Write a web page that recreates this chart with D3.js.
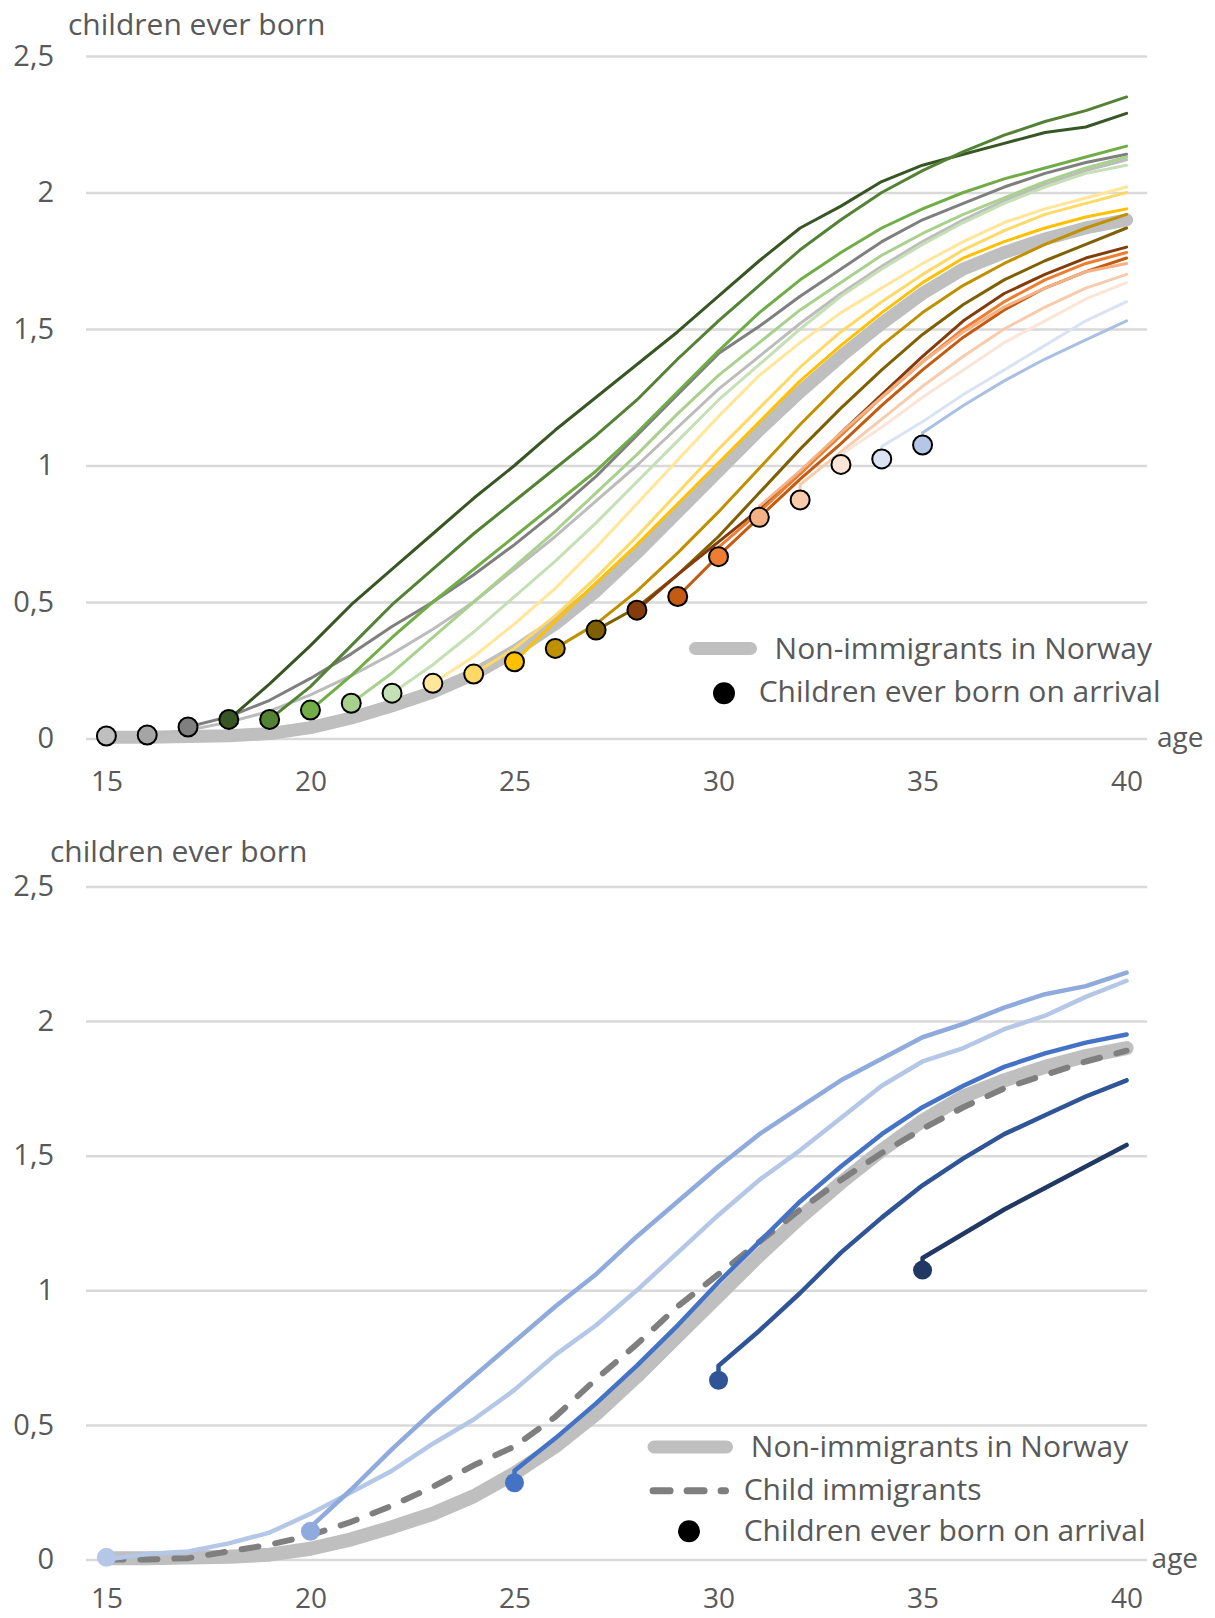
<!DOCTYPE html>
<html>
<head>
<meta charset="utf-8">
<script src="https://cdn.jsdelivr.net/npm/d3@7"></script>
<style>
  body { margin: 0; background: #fff; }
  text { font-family: 'Open Sans', sans-serif; fill: #595959; }
</style>
</head>
<body>
<div class="chart"></div>
<script>
// ---- data ----
var xTicks = [15, 20, 25, 30, 35, 40];
var yTicks = [0, 0.5, 1, 1.5, 2, 2.5];
var yTickLabels = ['0', '0,5', '1', '1,5', '2', '2,5'];

// ages 15..40
var nonImmigrants = [0.005, 0.005, 0.007, 0.01, 0.018, 0.04, 0.075, 0.12, 0.17, 0.235, 0.32, 0.42, 0.54, 0.68, 0.83, 0.98, 1.13, 1.27, 1.40, 1.52, 1.63, 1.72, 1.78, 1.83, 1.87, 1.90];
var childImmigrants = [0.0, 0.0, 0.005, 0.03, 0.055, 0.09, 0.14, 0.2, 0.27, 0.35, 0.42, 0.53, 0.67, 0.8, 0.94, 1.06, 1.18, 1.3, 1.41, 1.51, 1.6, 1.68, 1.75, 1.8, 1.85, 1.89];

// top panel: children ever born on arrival, arrival ages 15..35
var arrivalAgesTop = [15, 16, 17, 18, 19, 20, 21, 22, 23, 24, 25, 26, 27, 28, 29, 30, 31, 32, 33, 34, 35];
var arrivalCebTop = [0.009, 0.013, 0.042, 0.07, 0.07, 0.104, 0.129, 0.166, 0.202, 0.236, 0.281, 0.33, 0.397, 0.47, 0.52, 0.666, 0.81, 0.874, 1.004, 1.024, 1.075];

// top panel: one line per arrival age, values from arrival age up to 40
var cohort16 = [0.013, 0.03, 0.06, 0.1, 0.16, 0.23, 0.31, 0.4, 0.5, 0.62, 0.74, 0.87, 1.0, 1.14, 1.28, 1.4, 1.52, 1.63, 1.73, 1.82, 1.9, 1.97, 2.03, 2.08, 2.12];
var cohort17 = [0.042, 0.08, 0.14, 0.22, 0.31, 0.41, 0.5, 0.6, 0.71, 0.83, 0.96, 1.11, 1.26, 1.41, 1.51, 1.62, 1.72, 1.82, 1.9, 1.96, 2.02, 2.07, 2.11, 2.14];
var cohort18 = [0.07, 0.2, 0.34, 0.49, 0.62, 0.75, 0.88, 1.0, 1.13, 1.25, 1.37, 1.49, 1.62, 1.75, 1.87, 1.95, 2.04, 2.1, 2.14, 2.18, 2.22, 2.24, 2.29];
var cohort19 = [0.07, 0.19, 0.34, 0.49, 0.62, 0.75, 0.87, 0.99, 1.11, 1.24, 1.39, 1.53, 1.66, 1.79, 1.9, 2.0, 2.08, 2.15, 2.21, 2.26, 2.3, 2.35];
var cohort20 = [0.104, 0.23, 0.37, 0.5, 0.62, 0.74, 0.86, 0.98, 1.12, 1.27, 1.42, 1.56, 1.68, 1.78, 1.87, 1.94, 2.0, 2.05, 2.09, 2.13, 2.17];
var cohort21 = [0.129, 0.24, 0.37, 0.5, 0.63, 0.76, 0.9, 1.04, 1.19, 1.33, 1.45, 1.57, 1.67, 1.77, 1.85, 1.92, 1.98, 2.04, 2.09, 2.13];
var cohort22 = [0.166, 0.27, 0.39, 0.52, 0.65, 0.79, 0.94, 1.09, 1.24, 1.37, 1.5, 1.62, 1.72, 1.81, 1.89, 1.96, 2.02, 2.07, 2.1];
var cohort23 = [0.202, 0.3, 0.42, 0.55, 0.7, 0.86, 1.02, 1.18, 1.33, 1.45, 1.56, 1.65, 1.74, 1.82, 1.89, 1.94, 1.98, 2.02];
var cohort24 = [0.236, 0.33, 0.45, 0.59, 0.74, 0.9, 1.06, 1.21, 1.36, 1.49, 1.6, 1.7, 1.79, 1.86, 1.92, 1.96, 2.0];
var cohort25 = [0.281, 0.43, 0.57, 0.71, 0.86, 1.01, 1.16, 1.31, 1.44, 1.56, 1.67, 1.76, 1.82, 1.87, 1.91, 1.94];
var cohort26 = [0.33, 0.42, 0.54, 0.68, 0.83, 0.99, 1.15, 1.3, 1.44, 1.56, 1.66, 1.74, 1.81, 1.87, 1.92];
var cohort27 = [0.397, 0.48, 0.6, 0.74, 0.9, 1.06, 1.21, 1.35, 1.48, 1.59, 1.68, 1.75, 1.81, 1.87];
var cohort28 = [0.47, 0.6, 0.72, 0.84, 0.97, 1.12, 1.26, 1.4, 1.53, 1.63, 1.7, 1.76, 1.8];
var cohort29 = [0.52, 0.67, 0.81, 0.95, 1.08, 1.22, 1.35, 1.47, 1.57, 1.65, 1.71, 1.76];
var cohort30 = [0.7, 0.83, 0.97, 1.11, 1.25, 1.38, 1.5, 1.6, 1.68, 1.74, 1.78];
var cohort31 = [0.85, 0.98, 1.12, 1.25, 1.38, 1.49, 1.58, 1.65, 1.71, 1.74];
var cohort32 = [0.93, 1.05, 1.17, 1.29, 1.4, 1.5, 1.58, 1.65, 1.7];
var cohort33 = [1.04, 1.14, 1.25, 1.35, 1.45, 1.53, 1.61, 1.67];
var cohort34 = [1.07, 1.16, 1.26, 1.35, 1.44, 1.53, 1.6];
var cohort35 = [1.12, 1.22, 1.31, 1.39, 1.46, 1.53];
var linesTop = [null, cohort16, cohort17, cohort18, cohort19, cohort20, cohort21, cohort22, cohort23, cohort24,
  cohort25, cohort26, cohort27, cohort28, cohort29, cohort30, cohort31, cohort32, cohort33, cohort34, cohort35];

// bottom panel: arrival ages 15, 20, 25, 30, 35
var arrivalAgesBottom = [15, 20, 25, 30, 35];
var arrivalCebBottom = [0.008, 0.105, 0.285, 0.666, 1.075];
var arrived15 = [0.0, 0.02, 0.03, 0.06, 0.1, 0.17, 0.25, 0.33, 0.43, 0.52, 0.63, 0.76, 0.87, 1.0, 1.14, 1.28, 1.41, 1.52, 1.64, 1.76, 1.85, 1.9, 1.97, 2.02, 2.09, 2.15];
var arrived20 = [0.12, 0.26, 0.41, 0.55, 0.68, 0.81, 0.94, 1.06, 1.2, 1.33, 1.46, 1.58, 1.68, 1.78, 1.86, 1.94, 1.99, 2.05, 2.1, 2.13, 2.18];
var arrived25 = [0.33, 0.45, 0.58, 0.72, 0.87, 1.03, 1.18, 1.33, 1.46, 1.58, 1.68, 1.76, 1.83, 1.88, 1.92, 1.95];
var arrived30 = [0.72, 0.85, 0.99, 1.14, 1.27, 1.39, 1.49, 1.58, 1.65, 1.72, 1.78];
var arrived35 = [1.12, 1.21, 1.3, 1.38, 1.46, 1.54];
var linesBottom = [arrived15, arrived20, arrived25, arrived30, arrived35];

// colours
var topColors = ['#bfbfbf', '#bcbcbc', '#7f7f7f', '#375623', '#548235', '#70ad47', '#a9d18e', '#c5e0b4',
  '#ffe699', '#ffd966', '#ffc000', '#bf9000', '#7f6000', '#843c0c', '#c55a11', '#ed7d31',
  '#f4b183', '#f8cbad', '#fbe5d6', '#dae3f3', '#a9c0e4'];
var topMarkerColors = ['#bfbfbf', '#a5a5a5', '#7f7f7f', '#375623', '#548235', '#70ad47', '#a9d18e', '#c5e0b4',
  '#ffe699', '#ffd966', '#ffc000', '#bf9000', '#7f6000', '#843c0c', '#c55a11', '#ed7d31',
  '#f4b183', '#f8cbad', '#fbe5d6', '#dae3f3', '#b4c7e7'];
var bottomColors = ['#b4c7e7', '#8faadc', '#4472c4', '#2f5597', '#203864'];

// ---- layout ----
var width = 1215, height = 1618;
var plotLeft = 86, plotRight = 1147;

var svg = d3.select('.chart')
  .append('svg')
    .attr('width', width)
    .attr('height', height);

var x = d3.scaleLinear().domain([14.5, 40.5]).range([plotLeft, plotRight]);
var yTop = d3.scaleLinear().domain([0, 2.5]).range([738.5, 56]);
var yBottom = d3.scaleLinear().domain([0, 2.5]).range([1559.5, 886.5]);

function series(startAge, values, firstValue) {
  var pts = values.map(function(v, i) { return { age: startAge + i, value: v }; });
  if (firstValue != null) pts.unshift({ age: startAge, value: firstValue });
  return pts;
}

function drawAxes(y, xPad, titleX, titleY, ageX, ageY) {
  svg.append('g')
      .attr('transform', `translate(${plotLeft}, 0)`)
    .call(d3.axisLeft(y).tickValues(yTicks).tickSize(-(plotRight - plotLeft)).tickPadding(32)
      .tickFormat(function(d, i) { return yTickLabels[i]; }))
    .call(function(g) { g.select('.domain').remove(); })
    .call(function(g) { g.selectAll('.tick line').attr('stroke', '#d9d9d9').attr('stroke-width', 2.5); })
    .call(function(g) { g.selectAll('.tick text').attr('font-size', 29); });

  svg.append('g')
      .attr('transform', `translate(0, ${y(0)})`)
    .call(d3.axisBottom(x).tickValues(xTicks).tickSize(0).tickPadding(xPad))
    .call(function(g) { g.select('.domain').remove(); })
    .call(function(g) { g.selectAll('.tick text').attr('font-size', 28); });

  svg.append('text').attr('x', titleX).attr('y', titleY).attr('font-size', 30).text('children ever born');
  svg.append('text').attr('x', ageX).attr('y', ageY).attr('font-size', 28).text('age');
}

function lineFor(y) {
  return d3.line().x(function(d) { return x(d.age); }).y(function(d) { return y(d.value); });
}

// ---- top panel ----
drawAxes(yTop, 33, 68, 35, 1157, 747);
var lineTop = lineFor(yTop);

svg.append('path')
  .attr('d', lineTop(series(15, nonImmigrants)))
  .attr('fill', 'none').attr('stroke', '#bfbfbf').attr('stroke-width', 13)
  .attr('stroke-linecap', 'round').attr('stroke-linejoin', 'round');

arrivalAgesTop.forEach(function(a, i) {
  if (!linesTop[i]) return;
  svg.append('path')
    .attr('d', lineTop(series(a, linesTop[i], arrivalCebTop[i])))
    .attr('fill', 'none').attr('stroke', topColors[i]).attr('stroke-width', 3)
    .attr('stroke-linecap', 'round').attr('stroke-linejoin', 'round');
});

svg.append('g').selectAll('circle')
  .data(arrivalAgesTop)
  .join('circle')
    .attr('cx', function(d) { return x(d); })
    .attr('cy', function(d, i) { return yTop(arrivalCebTop[i]); })
    .attr('r', 9.5)
    .attr('fill', function(d, i) { return topMarkerColors[i]; })
    .attr('stroke', '#000').attr('stroke-width', 2);

// top legend
svg.append('line').attr('x1', 695.5).attr('x2', 750.5).attr('y1', 648.5).attr('y2', 648.5)
  .attr('stroke', '#bfbfbf').attr('stroke-width', 13).attr('stroke-linecap', 'round');
svg.append('text').attr('x', 774.6).attr('y', 658.5).attr('font-size', 30).text('Non-immigrants in Norway');
svg.append('circle').attr('cx', 724).attr('cy', 693.3).attr('r', 11).attr('fill', '#000');
svg.append('text').attr('x', 758.7).attr('y', 702).attr('font-size', 30).text('Children ever born on arrival');

// ---- bottom panel ----
drawAxes(yBottom, 29, 50, 862, 1151.6, 1568);
var lineBottom = lineFor(yBottom);

svg.append('path')
  .attr('d', lineBottom(series(15, nonImmigrants)))
  .attr('fill', 'none').attr('stroke', '#bfbfbf').attr('stroke-width', 14)
  .attr('stroke-linecap', 'round').attr('stroke-linejoin', 'round');

svg.append('path')
  .attr('d', lineBottom(series(15, childImmigrants)))
  .attr('fill', 'none').attr('stroke', '#7f7f7f').attr('stroke-width', 6)
  .attr('stroke-dasharray', '17,17')
  .attr('stroke-linecap', 'round').attr('stroke-linejoin', 'round');

arrivalAgesBottom.forEach(function(a, i) {
  svg.append('path')
    .attr('d', lineBottom(series(a, linesBottom[i], arrivalCebBottom[i])))
    .attr('fill', 'none').attr('stroke', bottomColors[i]).attr('stroke-width', 4.5)
    .attr('stroke-linecap', 'round').attr('stroke-linejoin', 'round');
});

svg.append('g').selectAll('circle')
  .data(arrivalAgesBottom)
  .join('circle')
    .attr('cx', function(d) { return x(d); })
    .attr('cy', function(d, i) { return yBottom(arrivalCebBottom[i]); })
    .attr('r', 9.5)
    .attr('fill', function(d, i) { return bottomColors[i]; });

// bottom legend
svg.append('line').attr('x1', 654).attr('x2', 726.5).attr('y1', 1447).attr('y2', 1447)
  .attr('stroke', '#bfbfbf').attr('stroke-width', 13).attr('stroke-linecap', 'round');
svg.append('text').attr('x', 750.8).attr('y', 1456.5).attr('font-size', 30).text('Non-immigrants in Norway');
svg.append('line').attr('x1', 653.1).attr('x2', 725.5).attr('y1', 1490.7).attr('y2', 1490.7)
  .attr('stroke', '#7f7f7f').attr('stroke-width', 7).attr('stroke-dasharray', '17,17')
  .attr('stroke-linecap', 'round');
svg.append('text').attr('x', 743.7).attr('y', 1499.5).attr('font-size', 30).text('Child immigrants');
svg.append('circle').attr('cx', 689).attr('cy', 1531.3).attr('r', 11).attr('fill', '#000');
svg.append('text').attr('x', 743.7).attr('y', 1541).attr('font-size', 30).text('Children ever born on arrival');
</script>
</body>
</html>
